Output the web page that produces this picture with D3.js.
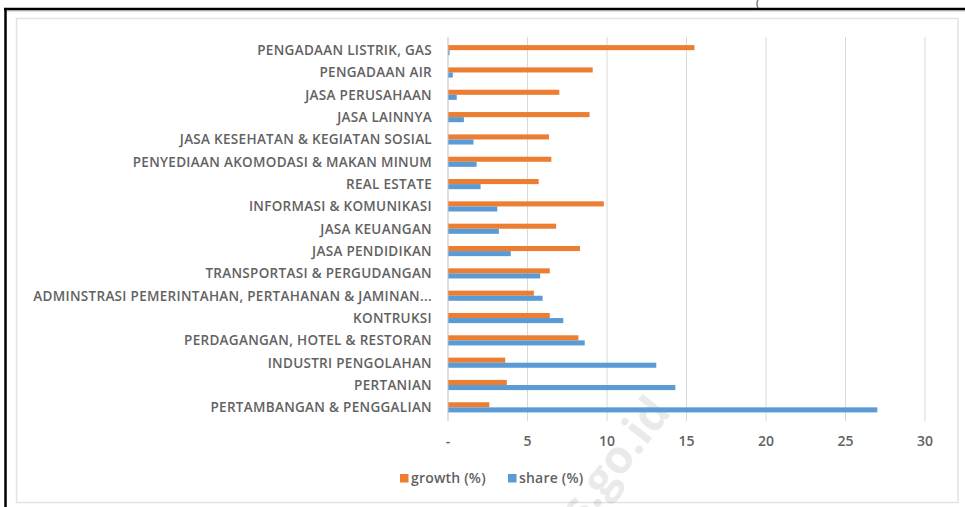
<!DOCTYPE html>
<html>
<head>
<meta charset="utf-8">
<script src="https://cdn.jsdelivr.net/npm/d3@7"></script>
<style>
  body { margin: 0; background: #fff; }
  text { font-family: "Open Sans", "Liberation Sans", Arial, sans-serif; }
</style>
</head>
<body>
<svg id="chart"></svg>
<script>
// sectors, top to bottom
const sectors = [
  "PENGADAAN LISTRIK, GAS",
  "PENGADAAN AIR",
  "JASA PERUSAHAAN",
  "JASA LAINNYA",
  "JASA KESEHATAN & KEGIATAN SOSIAL",
  "PENYEDIAAN AKOMODASI & MAKAN MINUM",
  "REAL ESTATE",
  "INFORMASI & KOMUNIKASI",
  "JASA KEUANGAN",
  "JASA PENDIDIKAN",
  "TRANSPORTASI & PERGUDANGAN",
  "ADMINSTRASI PEMERINTAHAN, PERTAHANAN & JAMINAN...",
  "KONTRUKSI",
  "PERDAGANGAN, HOTEL & RESTORAN",
  "INDUSTRI PENGOLAHAN",
  "PERTANIAN",
  "PERTAMBANGAN & PENGGALIAN"
];
const growth = [15.5, 9.1, 7.0, 8.9, 6.35, 6.5, 5.7, 9.8, 6.8, 8.3, 6.4, 5.4, 6.4, 8.2, 3.6, 3.7, 2.6];
const share = [0.1, 0.3, 0.55, 1.0, 1.6, 1.8, 2.05, 3.1, 3.2, 3.95, 5.8, 5.95, 7.25, 8.6, 13.1, 14.3, 27.0];
const xTicks = [0, 5, 10, 15, 20, 25, 30];
const seriesNames = ["growth (%)", "share (%)"];
const colors = ["#ED7D31", "#5B9BD5"];

const width = 965, height = 507;
const svg = d3.select("#chart").attr("width", width).attr("height", height);

// page frame: black rule + light chart box
svg.append("rect").attr("x", 16.5).attr("y", 18.5).attr("width", 941.5).attr("height", 484)
  .attr("fill", "#fff").attr("stroke", "#e3e3e3").attr("stroke-width", 1.5);
svg.append("line").attr("x1", 4).attr("x2", 965).attr("y1", 11).attr("y2", 11)
  .attr("stroke", "#c8c8c8").attr("stroke-width", 1);
svg.append("line").attr("x1", 4).attr("x2", 965).attr("y1", 9).attr("y2", 9)
  .attr("stroke", "#000").attr("stroke-width", 2.5);
svg.append("line").attr("x1", 5.5).attr("x2", 5.5).attr("y1", 8).attr("y2", 507)
  .attr("stroke", "#000").attr("stroke-width", 2.5);
// stray bracket peeking in at the top edge
svg.append("text").attr("x", 756).attr("y", 7).attr("font-size", 11).attr("fill", "#333").text("(");

const x = d3.scaleLinear().domain([0, 30]).range([448, 925]);
const y = d3.scaleBand().domain(sectors).range([39, 418.5]);
const ySub = d3.scaleBand().domain([0, 1]).range([0, y.bandwidth()]).paddingOuter(1.2);

// watermark
svg.append("text")
  .attr("transform", "translate(546,574) rotate(-52)")
  .attr("font-size", 46).attr("font-weight", "bold").attr("fill", "#000").attr("opacity", 0.08)
  .text("bps.go.id");

// gridlines
svg.append("g").selectAll("line").data(xTicks.slice(1)).join("line")
  .attr("x1", d => x(d)).attr("x2", d => x(d)).attr("y1", 37).attr("y2", 421)
  .attr("stroke", "#d9d9d9").attr("stroke-width", 1);

// bars
const series = [growth, share];
series.forEach((vals, si) => {
  svg.append("g").selectAll("rect").data(sectors).join("rect")
    .attr("x", x(0))
    .attr("y", (d) => y(d) + ySub(si))
    .attr("width", (d, i) => x(vals[i]) - x(0))
    .attr("height", ySub.bandwidth())
    .attr("fill", colors[si]);
});

// category axis line
svg.append("line").attr("x1", x(0)).attr("x2", x(0)).attr("y1", 37).attr("y2", 421)
  .attr("stroke", "#bfbfbf").attr("stroke-width", 1);

// category labels
svg.append("g").selectAll("text").data(sectors).join("text")
  .attr("x", 432)
  .attr("y", d => y(d) + y.bandwidth() / 2)
  .attr("dy", "0.36em")
  .attr("text-anchor", "end")
  .attr("font-size", 13.5)
  .attr("font-weight", 600)
  .attr("letter-spacing", 0.3)
  .attr("fill", "#626262")
  .text(d => d);

// value axis labels
svg.append("g").selectAll("text").data(xTicks).join("text")
  .attr("x", d => x(d))
  .attr("y", 441)
  .attr("dy", "0.36em")
  .attr("text-anchor", "middle")
  .attr("font-size", 14)
  .attr("font-weight", 600)
  .attr("fill", "#626262")
  .text(d => d === 0 ? "-" : d);

// legend
const legendX = [400, 508];
seriesNames.forEach((name, i) => {
  svg.append("rect").attr("x", legendX[i]).attr("y", 474).attr("width", 8.5).attr("height", 8.5)
    .attr("fill", colors[i]);
  svg.append("text").attr("x", legendX[i] + 11).attr("y", 478).attr("dy", "0.36em")
    .attr("font-size", 14).attr("font-weight", 600).attr("letter-spacing", 0.2)
    .attr("fill", "#626262").text(name);
});
</script>
</body>
</html>
